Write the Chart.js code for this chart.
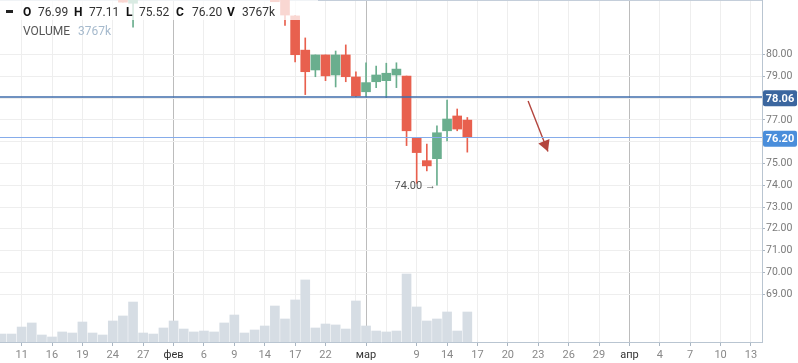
<!DOCTYPE html>
<html>
<head>
<meta charset="utf-8">
<script src="https://cdn.jsdelivr.net/npm/chart.js@4.4.1/dist/chart.umd.min.js"></script>
<style>
  body { margin: 0; background: #fff; }
  #wrap { position: relative; width: 798px; height: 363px; }
  #shade { position: absolute; left: 0; top: 0; width: 318px; height: 20px; background: rgba(255,255,255,0.75); }
  .lg { position: absolute; font: 12px Roboto, sans-serif; line-height: 14px; color: #333; white-space: nowrap; }
  .lg b { color: #111; }
  #dash { position: absolute; left: 6px; top: 10px; width: 7px; height: 3px; background: #222; }
</style>
</head>
<body>
<div id="wrap">
  <canvas id="chart" width="798" height="363"></canvas>
  <div id="shade"></div>
  <div id="dash"></div>
  <div id="legend"></div>
</div>
<script>
// daily slots, index = trading day; null where the candle is off the visible range
const opens  = [...Array(12).fill(null), 83.1, 82.35, ...Array(13).fill(null),
  83.0, 82.7, 81.77, 80.2, 79.29, 79.98, 79.06, 79.98, 78.97, 78.29,
  78.75, 78.8, 79.06, 79.01, 76.2, 75.13, 75.22, 76.5, 77.18, 76.99]
const highs  = [...Array(12).fill(null), 83.4, 83.6, ...Array(13).fill(null),
  83.3, 83.0, 81.8, 80.76, 79.98, 79.98, 80.16, 80.44, 79.21, 79.62,
  79.47, 79.6, 79.62, 79.01, 76.2, 75.89, 76.73, 77.91, 77.5, 77.11]
const lows   = [...Array(12).fill(null), 82.4, 81.25, ...Array(13).fill(null),
  82.42, 81.33, 79.66, 78.16, 78.98, 78.8, 78.51, 78.75, 78.06, 78.06,
  78.48, 78.02, 78.48, 75.82, 74.09, 74.66, 74.0, 76.03, 76.5, 75.52]
const closes = [...Array(12).fill(null), 82.4, 83.3, ...Array(13).fill(null),
  82.42, 81.81, 79.99, 79.21, 79.98, 79.02, 79.98, 78.98, 78.1, 78.71,
  79.06, 79.14, 79.33, 76.5, 75.5, 74.89, 76.41, 77.04, 76.58, 76.2]
// volume, thousands
const volumes = [1000, 1000, 1880, 2390, 880, 630, 1260, 1130, 2510, 1130,
  880, 2640, 3270, 5020, 1130, 1000, 1760, 2640, 1630, 1260,
  1380, 1260, 2390, 3390, 1130, 1510, 2010, 4520, 2890, 5280,
  7790, 1760, 2260, 2140, 1630, 5150, 2010, 1380, 1260, 1380,
  8540, 4400, 2640, 2890, 3770, 1380, 3767]

const tickSlots  = [2, 5, 8, 11, 14, 17, 20, 23, 26, 29, 32, 35, 36, 38, 41, 44, 47, 50, 53, 56, 59, 62, 65, 68, 71, 74]
const tickLabels = ['11', '16', '19', '24', '27', 'фев', '6', '9', '14', '17', '22', '', 'мар', '', '9', '14', '17', '20', '23', '26', '29', 'апр', '4', '7', '10', '13']
const monthLabels = ['фев', 'мар', 'апр']
const priceTicks = [69, 70, 71, 72, 73, 74, 75, 76, 77, 78, 79, 80]

const levels = [78.06, 76.20]
const levelColors = ['#3f6dab', '#86acea']
const levelBoxColors = ['#3b669f', '#4a8edb']

const arrowFrom = [52.0, 77.87]
const arrowTo = [53.96, 75.55]

const UP = '#6aae8e'
const DOWN = '#e8604e'

const last = closes.length - 1
const fmtK = v => Math.round(v) + 'k'

// legend text
const legendParts = [
    ['O', 23, true], [opens[last].toFixed(2), 38],
    ['H', 74, true], [highs[last].toFixed(2), 89],
    ['L', 126, true], [lows[last].toFixed(2), 139],
    ['C', 176, true], [closes[last].toFixed(2), 192],
    ['V', 227, true], [fmtK(volumes[last]), 242]
]
let html = ''
legendParts.forEach(p => {
    html += '<div class="lg" style="left:' + p[1] + 'px;top:5px">' + (p[2] ? '<b>' + p[0] + '</b>' : p[0]) + '</div>'
})
html += '<div class="lg" style="left:23px;top:24px;color:#555">VOLUME</div>'
html += '<div class="lg" style="left:78px;top:24px;color:#a6bacd">' + fmtK(volumes[last]) + '</div>'
document.getElementById('legend').innerHTML = html

const labelFor = v => {
    const i = tickSlots.indexOf(v)
    return i < 0 ? '' : tickLabels[i]
}

const bodies = [], wicks = [], vols = []
for (let i = 0; i < volumes.length; i++) {
    vols.push({x: i, y: volumes[i]})
    if (opens[i] == null) continue
    const up = closes[i] >= opens[i]
    bodies.push({x: i, y: [opens[i], closes[i]], up: up})
    wicks.push({x: i, y: [lows[i], highs[i]], up: up})
}
const candleColor = c => (c.raw && c.raw.up) ? UP : DOWN

const extras = {
    id: 'extras',
    beforeDatasetsDraw(chart) {
        const {ctx, chartArea: a} = chart
        ctx.save()
        ctx.strokeStyle = '#c4ceda'
        ctx.lineWidth = 1
        ctx.beginPath()
        ctx.moveTo(a.left, a.top + 0.5)
        ctx.lineTo(a.right, a.top + 0.5)
        ctx.stroke()
        ctx.restore()
    },
    afterDatasetsDraw(chart) {
        const {ctx, chartArea: a, scales} = chart
        const x = scales.x, y = scales.y
        ctx.save()
        // horizontal levels
        levels.forEach((lv, i) => {
            ctx.strokeStyle = levelColors[i]
            ctx.lineWidth = i === 0 ? 1.5 : 1
            const py = i === 0 ? Math.round(y.getPixelForValue(lv)) : Math.round(y.getPixelForValue(lv)) + 0.5
            ctx.beginPath()
            ctx.moveTo(a.left, py)
            ctx.lineTo(a.right, py)
            ctx.stroke()
        })
        // arrow head
        const meta = chart.getDatasetMeta(chart.data.datasets.findIndex(d => d.label === 'arrow'))
        const p0 = meta.data[0], p1 = meta.data[1]
        const dx = p1.x - p0.x, dy = p1.y - p0.y
        const len = Math.sqrt(dx * dx + dy * dy)
        const ux = dx / len, uy = dy / len
        ctx.fillStyle = '#b3453e'
        ctx.beginPath()
        ctx.moveTo(p1.x, p1.y)
        ctx.lineTo(p1.x - ux * 11 - uy * 6, p1.y - uy * 11 + ux * 6)
        ctx.lineTo(p1.x - ux * 11 + uy * 6, p1.y - uy * 11 - ux * 6)
        ctx.closePath()
        ctx.fill()
        // lowest low note
        let li = -1
        lows.forEach((v, i) => { if (v != null && (li < 0 || v < lows[li])) li = i })
        ctx.fillStyle = '#555'
        ctx.font = '11px Roboto, sans-serif'
        ctx.textAlign = 'right'
        ctx.textBaseline = 'middle'
        ctx.fillText(lows[li].toFixed(2) + ' \u2192', x.getPixelForValue(li) - 1, y.getPixelForValue(lows[li]) + 1)
        ctx.restore()
    },
    afterDraw(chart) {
        const {ctx, chartArea: a, scales} = chart
        ctx.save()
        levels.forEach((lv, i) => {
            const py = scales.y.getPixelForValue(lv) + 1.5
            ctx.fillStyle = levelBoxColors[i]
            ctx.beginPath()
            ctx.roundRect(a.right + 1, py - 8, 34, 16, 2)
            ctx.fill()
            ctx.fillStyle = '#fff'
            ctx.font = 'bold 11px Roboto, sans-serif'
            ctx.textAlign = 'center'
            ctx.textBaseline = 'middle'
            ctx.fillText(lv.toFixed(2), a.right + 18, py + 0.5)
        })
        ctx.restore()
    }
}

new Chart(document.getElementById('chart'), {
    type: 'bar',
    data: {
        datasets: [
            {
                label: 'arrow',
                type: 'line',
                data: [{x: arrowFrom[0], y: arrowFrom[1]}, {x: arrowTo[0], y: arrowTo[1]}],
                borderColor: '#b3453e',
                borderWidth: 1.4,
                pointRadius: 0,
                yAxisID: 'y',
                order: 1
            },
            {
                label: 'body',
                data: bodies,
                backgroundColor: candleColor,
                barThickness: 9,
                grouped: false,
                clip: 0,
                yAxisID: 'y',
                order: 3
            },
            {
                label: 'wick',
                data: wicks,
                backgroundColor: candleColor,
                barThickness: 1,
                grouped: false,
                clip: 0,
                yAxisID: 'y',
                order: 4
            },
            {
                label: 'volume',
                data: vols,
                backgroundColor: '#d6dde4',
                barThickness: 9,
                grouped: false,
                clip: 0,
                yAxisID: 'vol',
                order: 5
            }
        ]
    },
    options: {
        responsive: false,
        animation: false,
        events: [],
        layout: { padding: 0 },
        plugins: {
            legend: { display: false },
            tooltip: { enabled: false }
        },
        scales: {
            x: {
                type: 'linear',
                bounds: 'data',
                offset: false,
                min: -0.135,
                max: 75.09,
                afterBuildTicks: s => { s.ticks = tickSlots.map(v => ({value: v})) },
                afterFit: s => { s.height = 21; s.paddingLeft = 0; s.paddingRight = 0 },
                grid: {
                    offset: false,
                    color: c => monthLabels.includes(labelFor(c.tick && c.tick.value)) ? '#bcbcbc' : '#eeeeee',
                    tickColor: c => labelFor(c.tick && c.tick.value) ? '#aab6c2' : 'rgba(0,0,0,0)',
                    tickLength: 4
                },
                border: { color: '#b9c5d1' },
                ticks: {
                    autoSkip: false,
                    maxRotation: 0,
                    padding: 3,
                    font: { family: 'Roboto', size: 11 },
                    color: c => monthLabels.includes(labelFor(c.tick && c.tick.value)) ? '#333' : '#888',
                    callback: v => labelFor(v)
                }
            },
            y: {
                position: 'right',
                bounds: 'data',
                min: 66.81,
                max: 82.5,
                afterBuildTicks: s => { s.ticks = priceTicks.map(v => ({value: v})) },
                afterFit: s => { s.width = 36; s.paddingTop = 0; s.paddingBottom = 0 },
                grid: { color: '#eeeeee', tickColor: '#aab5c1', tickLength: 3 },
                border: { color: '#b9c5d1' },
                ticks: {
                    padding: 1,
                    font: { family: 'Roboto', size: 10.5 },
                    color: '#7a7a7a',
                    callback: v => levels.some(l => Math.abs(l - v) < 0.5) ? '' : v.toFixed(2)
                }
            },
            vol: {
                display: false,
                min: 0,
                max: 42943
            }
        }
    },
    plugins: [extras]
})
</script>
</body>
</html>
